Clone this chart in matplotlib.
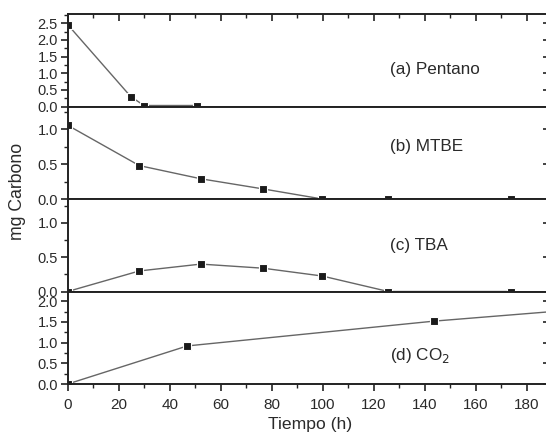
import matplotlib
matplotlib.use("Agg")
import matplotlib.pyplot as plt
from matplotlib.ticker import MultipleLocator

plt.rcParams['font.family'] = ['Liberation Sans', 'DejaVu Sans']

# Data
pentano_t = [0, 24.7, 29.9, 50.8]
pentano_c = [2.46, 0.30, 0.03, 0.03]

mtbe_t = [0, 28.1, 52.3, 76.6, 99.8, 125.7, 173.7]
mtbe_c = [1.06, 0.48, 0.29, 0.145, 0.0, 0.0, 0.0]

tba_t = [0, 28.1, 52.2, 76.6, 99.8, 125.7, 173.7]
tba_c = [0.0, 0.30, 0.40, 0.34, 0.226, 0.0, 0.0]

co2_t = [0, 46.9, 143.8, 192]
co2_c = [0.0, 0.92, 1.52, 1.76]

series = [
    (pentano_t, pentano_c, "(a) Pentano", 2.78, 0.40),
    (mtbe_t, mtbe_c, "(b) MTBE", 1.33, 0.57),
    (tba_t, tba_c, "(c) TBA", 1.35, 0.50),
    (co2_t, co2_c, "(d) CO$_2$", 2.235, 0.31),
]
xticks = [0, 20, 40, 60, 80, 100, 120, 140, 160, 180]

W, H = 546, 434
fig = plt.figure(figsize=(W / 100, H / 100), dpi=100)
left = 67.7 / W
right = 549.7 / W
bottom = 1 - 384 / H
top = 1 - 14 / H
gs = fig.add_gridspec(4, 1, left=left, right=right, bottom=bottom, top=top, hspace=0)

spine_col = '#222222'
txt_col = '#2a2a2a'
for i, (t, c, label, ymax, ty) in enumerate(series):
    ax = fig.add_subplot(gs[i])
    ax.plot(t, c, color='#666666', lw=1.0, marker='s', ms=5.5,
            mfc='#1a1a1a', mec='white', mew=0.8)
    ax.set_xlim(0, 189)
    ax.set_ylim(0, ymax)
    ax.xaxis.set_major_locator(MultipleLocator(20))
    ax.xaxis.set_minor_locator(MultipleLocator(10))
    ax.yaxis.set_major_locator(MultipleLocator(0.5))
    ax.yaxis.set_minor_locator(MultipleLocator(0.25))
    for s in ax.spines.values():
        s.set_linewidth(1.4)
        s.set_color(spine_col)
    ax.tick_params(axis='both', which='major', direction='out', length=5, width=1.2,
                   color=spine_col, labelsize=10.5, labelcolor=txt_col, pad=2)
    ax.tick_params(axis='both', which='minor', direction='out', length=3, width=1.0,
                   color=spine_col)
    ax.tick_params(axis='x', pad=5, labelsize=11)
    ax.set_yticks([v for v in [0, 0.5, 1.0, 1.5, 2.0, 2.5] if v <= ymax])
    ax.yaxis.set_major_formatter(matplotlib.ticker.FormatStrFormatter('%.1f'))
    if i < 3:
        ax.tick_params(axis='x', labelbottom=False)
    else:
        ax.set_xticks(xticks)
        ax.set_xticklabels([str(v) for v in xticks])
    if i == 0:
        sec = ax.secondary_xaxis('top')
        sec.xaxis.set_major_locator(MultipleLocator(20))
        sec.xaxis.set_minor_locator(MultipleLocator(10))
        sec.tick_params(which='major', direction='in', length=5, width=1.2, color=spine_col, labeltop=False)
        sec.tick_params(which='minor', direction='in', length=3, width=1.0, color=spine_col)
        sec.spines['top'].set_visible(False)
    secy = ax.secondary_yaxis('right')
    secy.set_yticks([v for v in [0, 0.5, 1.0, 1.5, 2.0, 2.5] if v <= ymax])
    secy.tick_params(which='major', direction='in', length=5, width=1.2, color=spine_col, labelright=False)
    secy.spines['right'].set_visible(False)
    ax.text(0.668, ty, label, transform=ax.transAxes, ha='left', va='center',
            fontsize=12.3, color=txt_col)

fig.text(18 / W, 1 - 191.5 / H, "mg Carbono", rotation=90, ha='center', va='center',
         fontsize=12.7, color=txt_col)
fig.text(310.5 / W, 1 - 424 / H, "Tiempo (h)", ha='center', va='center',
         fontsize=12.6, color=txt_col)

fig.savefig("out.png", dpi=100)
